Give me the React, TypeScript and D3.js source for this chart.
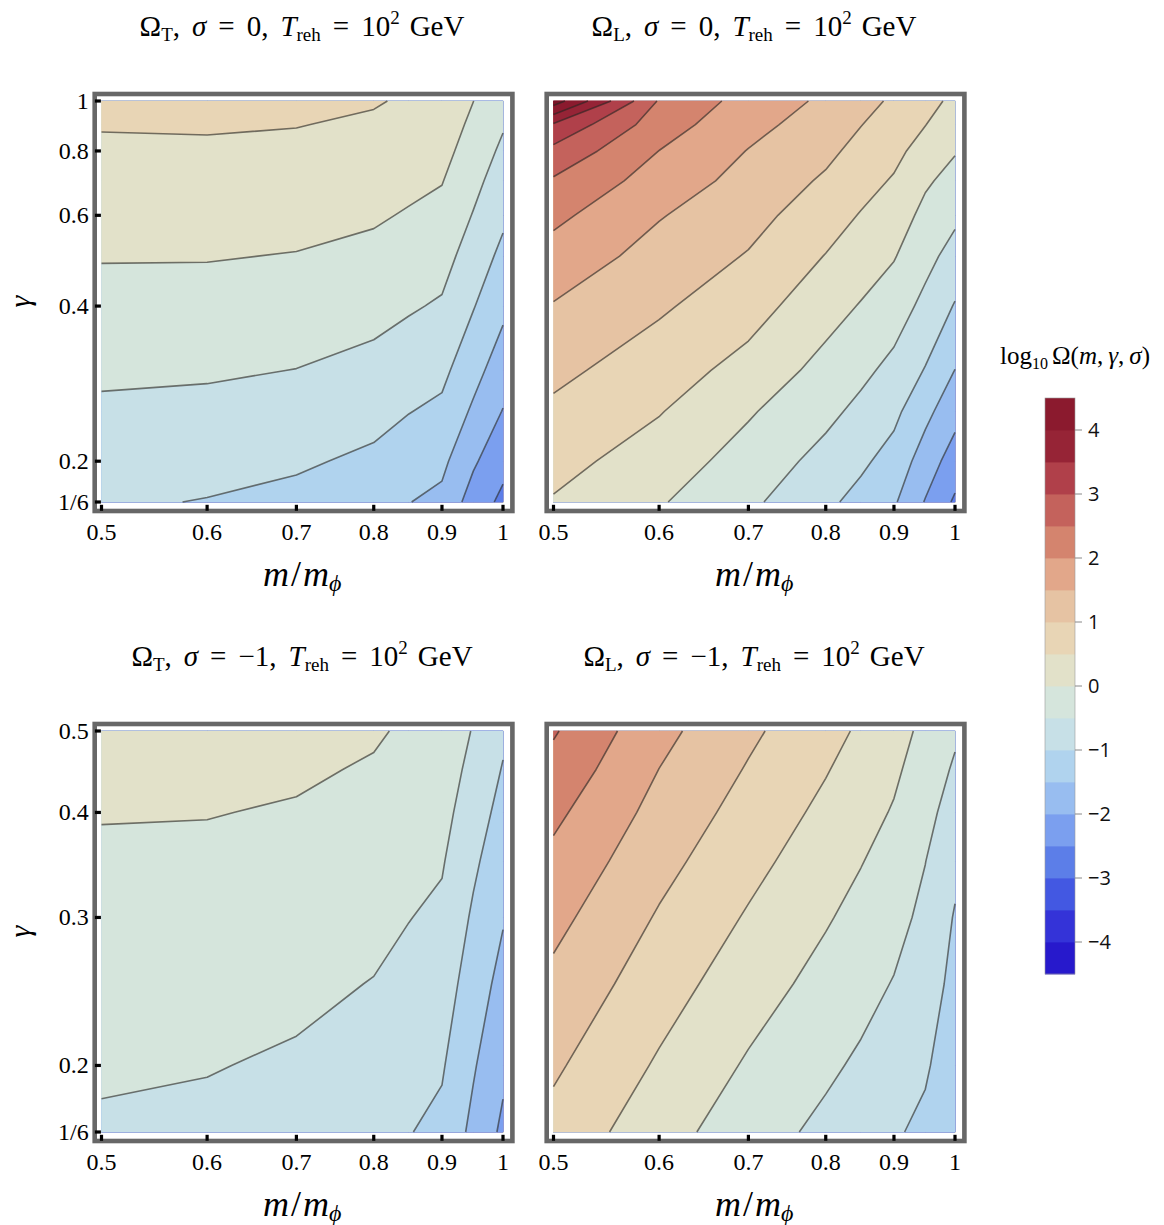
import React from "react";
import * as d3 from "d3";

// ---------------- data ----------------
const mGrid = [0.5, 0.6, 0.7, 0.8, 0.85, 0.9, 0.95, 1.0];
const gammaTop = [1, 0.9, 0.8, 0.7, 0.6, 0.5, 0.4, 0.3, 0.25, 0.2, 1 / 6];
const gammaBottom = [0.5, 0.45, 0.4, 0.35, 0.3, 0.25, 0.2, 1 / 6];

// log10 Omega, rows follow gamma (top to bottom), columns follow mGrid
const omegaT_sigma0 = [
  [0.617, 0.633, 0.609, 0.535, 0.445, 0.382, 0.005, -0.342],
  [0.528, 0.541, 0.514, 0.437, 0.346, 0.276, -0.108, -0.458],
  [0.428, 0.437, 0.407, 0.327, 0.234, 0.156, -0.228, -0.59],
  [0.314, 0.32, 0.286, 0.202, 0.109, 0.02, -0.365, -0.738],
  [0.183, 0.185, 0.147, 0.058, -0.04, -0.136, -0.524, -0.909],
  [0.028, 0.025, -0.019, -0.12, -0.224, -0.321, -0.726, -1.12],
  [-0.166, -0.179, -0.232, -0.343, -0.45, -0.554, -0.973, -1.388],
  [-0.418, -0.443, -0.508, -0.643, -0.774, -0.881, -1.332, -1.767],
  [-0.578, -0.619, -0.7, -0.845, -0.985, -1.1, -1.577, -2.02],
  [-0.774, -0.84, -0.935, -1.092, -1.262, -1.386, -1.93, -2.349],
  [-0.934, -1.02, -1.127, -1.293, -1.489, -1.62, -2.218, -2.618],
];

const omegaL_sigma0 = [
  [4.75, 2.454, 1.808, 1.411, 1.154, 0.929, 0.695, 0.367],
  [3.435, 2.238, 1.652, 1.27, 1.013, 0.788, 0.511, 0.209],
  [2.862, 1.996, 1.483, 1.112, 0.854, 0.63, 0.304, 0.033],
  [2.443, 1.781, 1.337, 0.933, 0.676, 0.455, 0.071, -0.169],
  [2.117, 1.532, 1.169, 0.726, 0.471, 0.261, -0.134, -0.403],
  [1.805, 1.318, 0.968, 0.483, 0.246, 0.031, -0.348, -0.684],
  [1.47, 1.069, 0.705, 0.195, -0.03, -0.259, -0.628, -1.034],
  [1.119, 0.739, 0.328, -0.161, -0.387, -0.638, -1.029, -1.509],
  [0.907, 0.529, 0.053, -0.377, -0.619, -0.881, -1.362, -1.828],
  [0.661, 0.263, -0.203, -0.658, -0.912, -1.186, -1.737, -2.234],
  [0.461, 0.045, -0.399, -0.9, -1.151, -1.439, -2.029, -2.575],
];

const omegaT_sigmaM1 = [
  [0.171, 0.172, 0.138, 0.048, -0.06, -0.143, -0.532, -0.915],
  [0.101, 0.098, 0.057, -0.038, -0.148, -0.236, -0.645, -1.028],
  [0.022, 0.014, -0.033, -0.134, -0.247, -0.34, -0.771, -1.155],
  [-0.066, -0.08, -0.134, -0.243, -0.359, -0.458, -0.914, -1.298],
  [-0.169, -0.19, -0.252, -0.368, -0.488, -0.594, -1.069, -1.464],
  [-0.291, -0.319, -0.391, -0.517, -0.641, -0.755, -1.241, -1.661],
  [-0.439, -0.477, -0.561, -0.699, -0.829, -0.952, -1.452, -1.901],
  [-0.561, -0.607, -0.7, -0.847, -0.982, -1.114, -1.624, -2.097],
];

const omegaL_sigmaM1 = [
  [2.548, 1.644, 1.095, 0.655, 0.434, 0.19, -0.118, -0.426],
  [2.341, 1.496, 0.963, 0.529, 0.311, 0.082, -0.229, -0.562],
  [2.109, 1.337, 0.815, 0.388, 0.175, -0.039, -0.352, -0.715],
  [1.88, 1.158, 0.647, 0.229, 0.02, -0.177, -0.492, -0.888],
  [1.643, 0.953, 0.453, 0.045, -0.145, -0.337, -0.619, -1.036],
  [1.379, 0.723, 0.224, -0.162, -0.338, -0.526, -0.767, -1.134],
  [1.077, 0.44, -0.056, -0.412, -0.577, -0.76, -0.947, -1.253],
  [0.836, 0.203, -0.277, -0.616, -0.773, -0.951, -1.095, -1.35],
];

const thresholds = d3.range(-4.5, 4.51, 0.5);
// colour of band [t, t+0.5] for each threshold t (last = above 4.5)
const bandColors = [
  "#2719cc", "#3433d8", "#4358e2", "#5c7ee8", "#7b9fef", "#98bdf0",
  "#b0d3ee", "#c7e0e7", "#d5e5dc", "#e2e1c9", "#e8d5b5", "#e6c3a3",
  "#e2a78a", "#d4846e", "#c4625c", "#b0404a", "#962436", "#8b1a2e", "#7a1226",
];

const xTicks = [0.5, 0.6, 0.7, 0.8, 0.9, 1];
const xTickLabels = ["0.5", "0.6", "0.7", "0.8", "0.9", "1"];
const yTicksTop = [1, 0.8, 0.6, 0.4, 0.2, 1 / 6];
const yTickLabelsTop = ["1", "0.8", "0.6", "0.4", "0.2", "1/6"];
const yTicksBottom = [0.5, 0.4, 0.3, 0.2, 1 / 6];
const yTickLabelsBottom = ["0.5", "0.4", "0.3", "0.2", "1/6"];
const cbTicks = [4, 3, 2, 1, 0, -1, -2, -3, -4];

// ---------------- helpers ----------------
const serif = "'Liberation Serif', 'Times New Roman', serif";
const sans = "'Open Sans', 'DejaVu Sans', sans-serif";

function interp(c: number, pos: number[]) {
  const k = c - 0.5;
  if (k <= 0) return pos[0];
  if (k >= pos.length - 1) return pos[pos.length - 1];
  const i = Math.floor(k);
  const f = k - i;
  return pos[i] + f * (pos[i + 1] - pos[i]);
}

type PanelProps = {
  values: number[][];
  gammas: number[];
  x0: number;
  y0: number;
  yDomain: [number, number];
  yTicks?: number[];
  yLabels?: string[];
  showY: boolean;
};

const PW = 401.5; // x range width
const PH = 401; // y range height

function Panel({ values, gammas, x0, y0, yDomain, yTicks, yLabels, showY }: PanelProps) {
  const xScale = d3.scaleLog().domain([0.5, 1]).range([x0, x0 + PW]);
  const yScale = d3.scaleLog().domain(yDomain).range([y0 + PH, y0]);
  const n = mGrid.length;
  const m = gammas.length;
  const xs = mGrid.map((v) => xScale(v));
  const ys = gammas.map((v) => yScale(v));
  const flat = values.flat();
  const contours = d3.contours().size([n, m]).thresholds(thresholds)(flat);
  const eps = 1e-9;
  const mp = (p: number[]) => [interp(p[0], xs), interp(p[1], ys)];

  const fills = contours.map((c: any) => {
    const d = c.coordinates
      .map((poly: number[][][]) =>
        poly
          .map((ring) => "M" + ring.map((p) => mp(p).map((v) => v.toFixed(2)).join(",")).join("L") + "Z")
          .join("")
      )
      .join("");
    const idx = thresholds.findIndex((t) => Math.abs(t - c.value) < 1e-6);
    return { d, color: bandColors[idx] };
  });

  const onB = (a: number[], b: number[]) =>
    (a[0] <= 0.5 + eps && b[0] <= 0.5 + eps) ||
    (a[0] >= n - 0.5 - eps && b[0] >= n - 0.5 - eps) ||
    (a[1] <= 0.5 + eps && b[1] <= 0.5 + eps) ||
    (a[1] >= m - 0.5 - eps && b[1] >= m - 0.5 - eps);

  const lines: string[] = [];
  contours.forEach((c: any) => {
    let d = "";
    c.coordinates.forEach((poly: number[][][]) =>
      poly.forEach((ring) => {
        let pen = false;
        for (let k = 0; k < ring.length - 1; k++) {
          const a = ring[k];
          const b = ring[k + 1];
          if (onB(a, b)) {
            pen = false;
            continue;
          }
          const pa = mp(a);
          const pb = mp(b);
          if (!pen) d += "M" + pa[0].toFixed(2) + "," + pa[1].toFixed(2);
          d += "L" + pb[0].toFixed(2) + "," + pb[1].toFixed(2);
          pen = true;
        }
      })
    );
    if (d) lines.push(d);
  });

  const fx = x0 - 6.8;
  const fy = y0 - 7;
  const fw = PW + 16.2;
  const fh = PH + 16;

  return (
    <g>
      <rect x={fx} y={fy} width={fw} height={fh} fill="#fff" stroke="#676767" strokeWidth={4.6} />
      <rect x={x0 - 0.5} y={y0 - 0.5} width={PW + 1.5} height={PH + 1.5} fill={bandColors[9]} />
      {fills.map((f, i) => (
        <path key={i} d={f.d} fill={f.color} fillRule="evenodd" stroke={f.color} strokeWidth={0.3} />
      ))}
      {lines.map((d, i) => (
        <path key={"l" + i} d={d} fill="none" stroke="rgba(40,38,36,0.62)" strokeWidth={1.6} strokeLinejoin="round" />
      ))}
      {xTicks.map((t, i) => (
        <rect key={"xt" + i} x={xScale(t) - 1.6} y={fy + fh - 6.2} width={3.2} height={6} fill="#000" />
      ))}
      {xTicks.map((t, i) => (
        <text key={"xl" + i} x={xScale(t)} y={fy + fh + 29} textAnchor="middle" fontFamily={serif} fontSize={24}>
          {xTickLabels[i]}
        </text>
      ))}
      {showY &&
        yTicks!.map((t, i) => (
          <rect key={"yt" + i} x={fx + 0.2} y={yScale(t) - 1.6} width={6} height={3.2} fill="#000" />
        ))}
      {showY &&
        yTicks!.map((t, i) => (
          <text key={"yl" + i} x={fx - 6} y={yScale(t) + 8} textAnchor="end" fontFamily={serif} fontSize={24}>
            {yLabels![i]}
          </text>
        ))}
      <text x={x0 + PW / 2} y={fy + fh + 75} textAnchor="middle" fontFamily={serif} fontSize={36} fontStyle="italic">
        <tspan>m</tspan>
        <tspan fontStyle="normal" dx={2}>/</tspan>
        <tspan dx={2}>m</tspan>
        <tspan fontSize={24} dy={5}>ϕ</tspan>
      </text>
      {showY && (
        <text
          transform={`translate(${x0 - 72},${y0 + PH / 2}) rotate(-90)`}
          textAnchor="middle"
          fontFamily={serif}
          fontSize={30}
          fontStyle="italic"
        >
          γ
        </text>
      )}
    </g>
  );
}

function Title({ cx, y, which, sigma }: { cx: number; y: number; which: string; sigma: string }) {
  return (
    <text x={cx} y={y} textAnchor="middle" fontFamily={serif} fontSize={29}>
      <tspan>Ω</tspan>
      <tspan fontSize={19} dy={5}>{which}</tspan>
      <tspan dy={-5}>,</tspan>
      <tspan dx={12} fontStyle="italic">σ</tspan>
      <tspan dx={12}>=</tspan>
      <tspan dx={12}>{sigma + ","}</tspan>
      <tspan dx={12} fontStyle="italic">T</tspan>
      <tspan fontSize={19} dy={5}>reh</tspan>
      <tspan dx={12} dy={-5}>=</tspan>
      <tspan dx={12}>10</tspan>
      <tspan fontSize={19} dy={-12}>2</tspan>
      <tspan dx={10} dy={12}>GeV</tspan>
    </text>
  );
}

function ColorBar() {
  const x = 1045;
  const w = 30;
  const s = d3.scaleLinear().domain([-4.5, 4.5]).range([974, 398]);
  const bands = d3.range(0, 18);
  return (
    <g>
      {bands.map((i) => (
        <rect
          key={i}
          x={x}
          y={s(thresholds[i] + 0.5)}
          width={w}
          height={s(thresholds[i]) - s(thresholds[i] + 0.5) + 0.4}
          fill={bandColors[i]}
        />
      ))}
      <rect x={x} y={398} width={w} height={576} fill="none" stroke="#999" strokeWidth={0.6} />
      {cbTicks.map((t) => (
        <g key={t}>
          <line x1={x + w} x2={x + w + 7} y1={s(t)} y2={s(t)} stroke="#888" strokeWidth={1} />
          <text x={x + w + 13} y={s(t) + 7} fontFamily={sans} fontSize={20} fill="#111">
            {t < 0 ? "\u2212" + Math.abs(t) : String(t)}
          </text>
        </g>
      ))}
      <text x={1075} y={364} textAnchor="middle" fontFamily={serif} fontSize={25}>
        <tspan>log</tspan>
        <tspan fontSize={16} dy={5}>10</tspan>
        <tspan dx={4} dy={-5}>Ω(</tspan>
        <tspan fontStyle="italic">m</tspan>
        <tspan>,</tspan>
        <tspan dx={5} fontStyle="italic">γ</tspan>
        <tspan>,</tspan>
        <tspan dx={5} fontStyle="italic">σ</tspan>
        <tspan>)</tspan>
      </text>
    </g>
  );
}

export default function App() {
  return (
    <svg
      width={1164}
      height={1225}
      viewBox="0 0 1164 1225"
      style={{ position: "absolute", left: 0, top: 0, background: "#fff" }}
    >
      <rect width={1164} height={1225} fill="#fff" />
      <Title cx={302} y={36} which="T" sigma="0" />
      <Title cx={754} y={36} which="L" sigma="0" />
      <Title cx={302} y={666} which="T" sigma={"\u22121"} />
      <Title cx={754} y={666} which="L" sigma={"\u22121"} />
      <Panel
        values={omegaT_sigma0}
        gammas={gammaTop}
        x0={101.5}
        y0={101}
        yDomain={[1 / 6, 1]}
        yTicks={yTicksTop}
        yLabels={yTickLabelsTop}
        showY={true}
      />
      <Panel values={omegaL_sigma0} gammas={gammaTop} x0={553.5} y0={101} yDomain={[1 / 6, 1]} showY={false} />
      <Panel
        values={omegaT_sigmaM1}
        gammas={gammaBottom}
        x0={101.5}
        y0={731}
        yDomain={[1 / 6, 0.5]}
        yTicks={yTicksBottom}
        yLabels={yTickLabelsBottom}
        showY={true}
      />
      <Panel values={omegaL_sigmaM1} gammas={gammaBottom} x0={553.5} y0={731} yDomain={[1 / 6, 0.5]} showY={false} />
      <ColorBar />
    </svg>
  );
}
